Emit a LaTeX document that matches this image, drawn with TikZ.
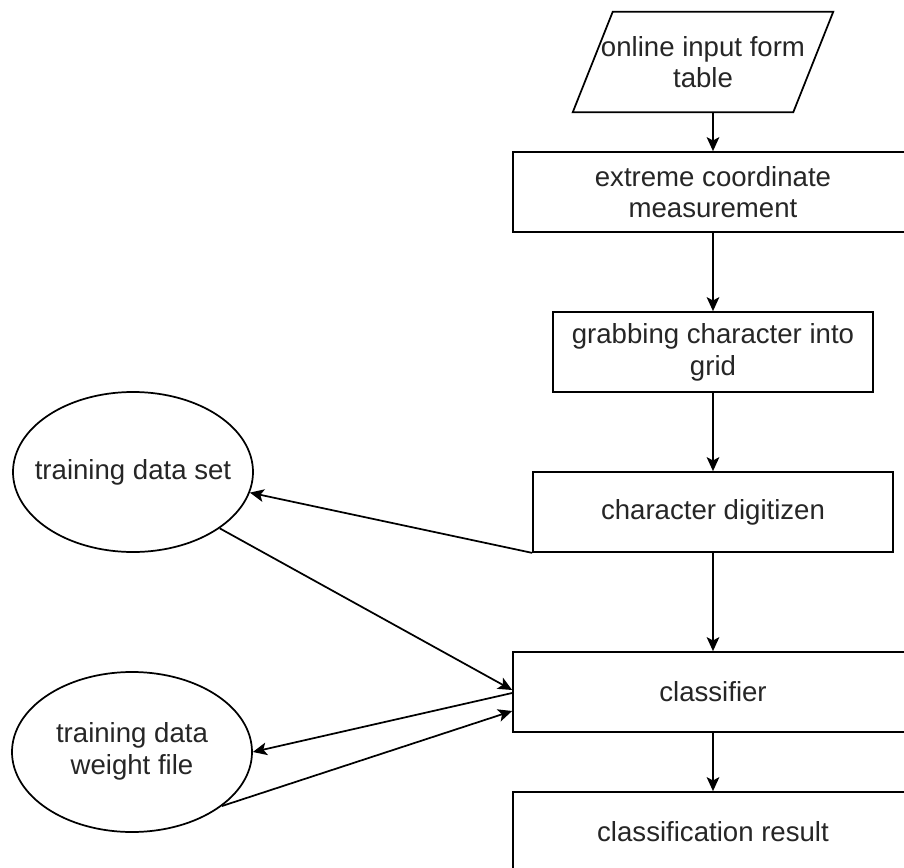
\documentclass[tikz,border=0pt]{standalone}
\usepackage{fontspec}
\setmainfont{Liberation Sans}
\usetikzlibrary{arrows.meta,shapes.geometric,calc}

\tikzset{
  lbl/.style={font=\fontsize{20.7}{23.8}\selectfont, text=black!85, align=center},
  procbox/.style={lbl, draw, line width=1.3pt, rectangle, inner sep=0pt, minimum height=60pt},
  store/.style={lbl, draw, line width=1.3pt, ellipse, inner sep=0pt, minimum width=180pt, minimum height=120pt},
  ioframe/.style={lbl, rectangle, inner sep=0pt, minimum width=195pt, minimum height=75pt},
  arr/.style={line width=1.3pt, -{Stealth[length=10.5pt,width=9.5pt,inset=2.5pt]}}
}

\begin{document}
\begin{tikzpicture}[x=0.75pt,y=-0.75pt]
  \clip (0,0) rectangle (904,868);
  \fill[white] (0,0) rectangle (904,868);

  % input parallelogram: text node plus slanted outline drawn from its corners
  \node[ioframe] (para) at (703,62) {online input form\\table};
  \draw[line width=1.3pt, line join=miter]
    (para.south west) -- ($(para.north west)+(40,0)$) -- (para.north east)
    -- ($(para.south east)+(-40,0)$) -- cycle;

  % main processing column
  \node[procbox, minimum width=300pt] (ext)  at (713,192) {extreme coordinate\\measurement};
  \node[procbox, minimum width=240pt] (grab) at (713,352) {grabbing character into\\grid};
  \node[procbox, minimum width=270pt] (dig)  at (713,512) {character digitizen};
  \node[procbox, minimum width=300pt] (cls)  at (713,692) {classifier};
  \node[procbox, minimum width=300pt] (res)  at (713,832) {classification result};

  % data stores (zero-width text so the ellipse keeps its fixed size)
  \node[store] (tds) at (133,472) {\makebox[0pt][c]{training data set}};
  \node[store] (twf) at (132,752) {\makebox[0pt][c]{\begin{tabular}{@{}c@{}}training data\\weight file\end{tabular}}};

  % flow
  \draw[arr] (para.south -| ext.north) -- (ext.north);
  \draw[arr] (ext.south) -- (grab.north);
  \draw[arr] (grab.south) -- (dig.north);
  \draw[arr] (dig.south) -- (cls.north);
  \draw[arr] (cls.south) -- (res.north);

  \draw[arr] (dig.south west) -- (tds.-10);
  \draw[arr] (tds.-33) -- ($(cls.west)+(0,-2)$);
  \draw[arr] ($(cls.west)+(0,1)$) -- (twf.0);
  \draw[arr] (twf.-31) -- ($(cls.west)+(0,19)$);
\end{tikzpicture}
\end{document}
